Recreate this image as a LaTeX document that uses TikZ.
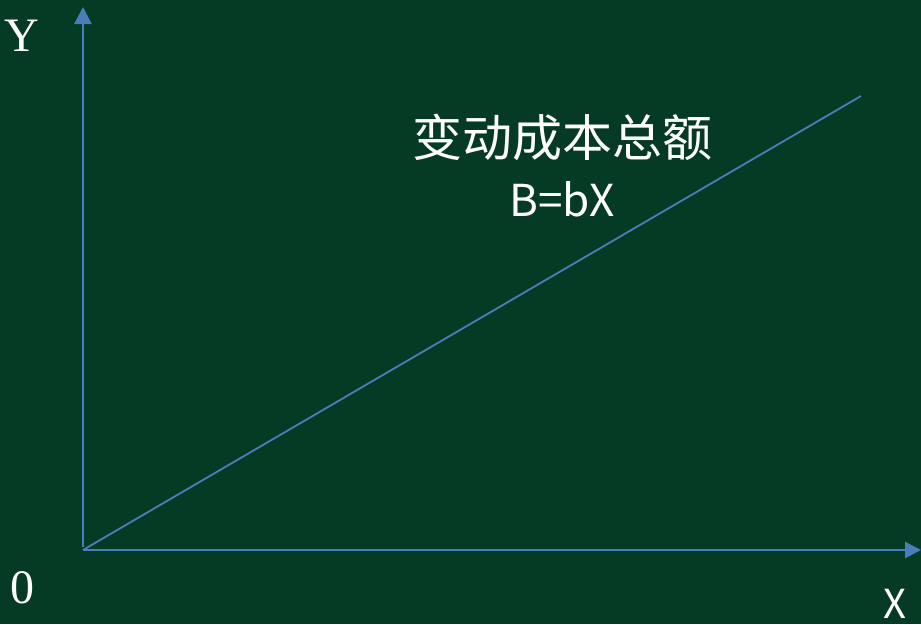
\documentclass[tikz,border=0pt]{standalone}
\usepackage{fontspec}
\setmainfont{Liberation Serif}
\newfontfamily\cjkfont{Noto Sans CJK SC}
\usepackage{xcolor}
\usetikzlibrary{arrows.meta}
\definecolor{board}{HTML}{053A25}
\definecolor{axisblue}{HTML}{4A7EBB}

\begin{document}
\begin{tikzpicture}[x=1pt, y=-1pt]
        % board and axes
        \fill[board] (0,0) rectangle (921,624);
        \useasboundingbox (0,0) rectangle (921,624);
        \coordinate (o) at (83,550);
        \coordinate (ytip) at (83,7);
        \coordinate (xtip) at (921,550);
        \coordinate (lineend) at (861,96);
        
        \draw[axisblue, line width=2.5pt, -{Triangle[length=17pt, width=17pt]}] (83,547) -- (ytip);
        \draw[axisblue, line width=2.5pt, -{Triangle[length=16pt, width=16pt]}] (o) -- (xtip);
        \draw[axisblue, line width=1.8pt] (o) -- (lineend);
        
        \node[white, font=\fontsize{48}{50}\selectfont] (ylabel) at (22,36) {Y};
        \node[white, font=\fontsize{48}{50}\selectfont] (zero) at (22,588) {0};
        \node[white, font=\cjkfont\fontsize{40}{44}\selectfont] (xlabel) at (895,604) {X};
        \node[white, font=\cjkfont\fontsize{50}{56}\selectfont] (name) at (562,137) {变动成本总额};
        \node[white, font=\cjkfont\fontsize{44}{50}\selectfont] (formula) at (562,199) {B=bX};
    \end{tikzpicture}
\end{document}
